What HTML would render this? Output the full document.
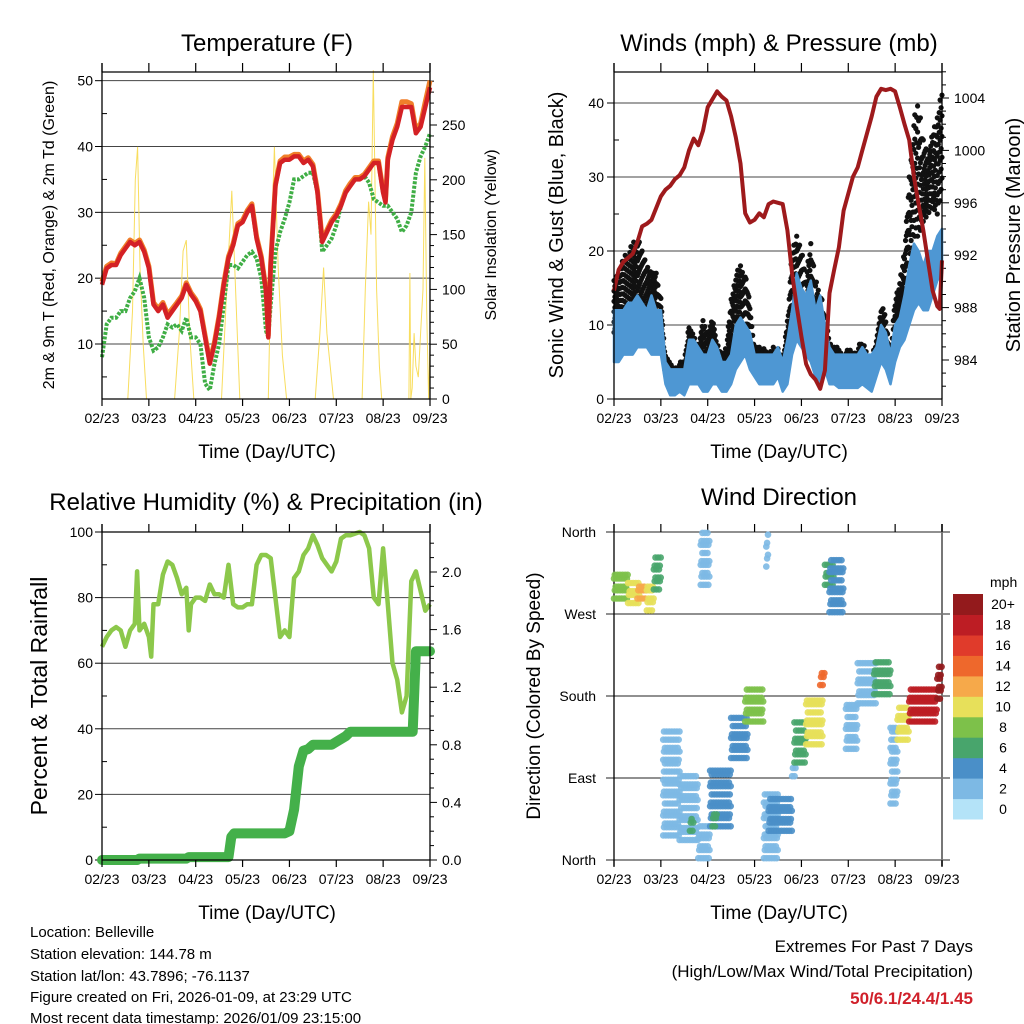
<!DOCTYPE html>
<html><head><meta charset="utf-8"><style>
html,body{margin:0;padding:0;background:#fff}
svg{display:block;font-family:"Liberation Sans",Arial,sans-serif}
</style></head><body>
<svg id="c" width="1024" height="1024" viewBox="0 0 1024 1024" xmlns="http://www.w3.org/2000/svg">
<rect width="1024" height="1024" fill="#fff"/>
<g font-size="24">
<text x="267" y="51" text-anchor="middle">Temperature (F)</text>
<text x="779" y="51" text-anchor="middle">Winds (mph) &amp; Pressure (mb)</text>
<text x="266" y="510" text-anchor="middle">Relative Humidity (%) &amp; Precipitation (in)</text>
<text x="779" y="505" text-anchor="middle">Wind Direction</text>
</g>
<g font-size="19">
<text x="267" y="458" text-anchor="middle">Time (Day/UTC)</text>
<text x="779" y="458" text-anchor="middle">Time (Day/UTC)</text>
<text x="267" y="919" text-anchor="middle">Time (Day/UTC)</text>
<text x="779" y="919" text-anchor="middle">Time (Day/UTC)</text>
</g>
<text transform="translate(54,235) rotate(-90)" font-size="16" text-anchor="middle">2m &amp; 9m T (Red, Orange) &amp; 2m Td (Green)</text>
<text transform="translate(496,235) rotate(-90)" font-size="16" text-anchor="middle">Solar Insolation (Yellow)</text>
<text transform="translate(563,235) rotate(-90)" font-size="20" text-anchor="middle">Sonic Wind &amp; Gust (Blue, Black)</text>
<text transform="translate(1020,235) rotate(-90)" font-size="20" text-anchor="middle">Station Pressure (Maroon)</text>
<text transform="translate(47,696) rotate(-90)" font-size="23" text-anchor="middle">Percent &amp; Total Rainfall</text>
<text transform="translate(540,696) rotate(-90)" font-size="19" text-anchor="middle">Direction (Colored By Speed)</text>
<g font-size="15">
<text x="30" y="937">Location: Belleville</text>
<text x="30" y="959">Station elevation: 144.78 m</text>
<text x="30" y="981">Station lat/lon: 43.7896; -76.1137</text>
<text x="30" y="1002">Figure created on Fri, 2026-01-09, at 23:29 UTC</text>
<text x="30" y="1023">Most recent data timestamp: 2026/01/09 23:15:00</text>
</g>
<g font-size="17" text-anchor="end">
<text x="973" y="952">Extremes For Past 7 Days</text>
<text x="973" y="977">(High/Low/Max Wind/Total Precipitation)</text>
<text x="973" y="1004" fill="#d0202a" font-weight="bold">50/6.1/24.4/1.45</text>
</g>
<g id="plots"></g>
</svg>
<script>
// ---------- data ----------
const dayLabels=["02/23","03/23","04/23","05/23","06/23","07/23","08/23","09/23"];
const tTimes=[0,0.1,0.2,0.3,0.4,0.5,0.6,0.7,0.8,0.9,1.0,1.1,1.2,1.3,1.4,1.5,1.6,1.7,1.8,1.9,2.0,2.1,2.2,2.3,2.4,2.5,2.6,2.7,2.8,2.9,3.0,3.1,3.2,3.3,3.4,3.5,3.55,3.6,3.7,3.8,3.9,4.0,4.1,4.2,4.3,4.4,4.5,4.6,4.7,4.8,4.9,5.0,5.1,5.2,5.3,5.4,5.5,5.6,5.7,5.8,5.9,6.0,6.05,6.1,6.2,6.3,6.4,6.5,6.6,6.7,6.8,6.9,7.0];
const temp2m=[19,21.5,22,22,23.5,24.5,25.5,25,25.5,24,21.5,16,15,16,14,15,16,17,19,17.5,16.5,15,11,7,10,14,19,23,25,28,28.5,30,31,26,23,18,11,22,34,37.5,38,38,38.5,38.5,37.5,38,37,33,25.5,27,28.5,29.5,31,33,34,35,35,35.5,36.5,37.5,37.5,33,31.5,38,41,43,46,46,46,42,43,46,49];
const temp9m=[19.5,21.8,22.3,22.2,23.8,24.8,25.8,25.3,25.8,24.3,21.8,16.3,15.4,16.3,14.5,15.4,16.3,17.3,19.3,17.8,16.8,15.3,11.3,7.3,10.3,14.3,19.3,23.3,25.3,28.3,28.8,30.3,31.3,26.3,23.3,18.3,11.3,22.3,34.3,37.8,38.4,38.4,38.8,38.8,37.8,38.3,37.3,33.3,25.8,27.3,28.8,29.8,31.3,33.3,34.4,35.3,35.3,35.8,36.8,37.8,37.8,33.3,31.8,38.3,41.5,43.5,46.8,46.8,46.5,42.5,43.5,46.8,50];
const dewTimes=[0,0.1,0.2,0.3,0.4,0.5,0.6,0.7,0.8,0.9,1.0,1.1,1.2,1.3,1.4,1.5,1.6,1.7,1.8,1.9,2.0,2.1,2.2,2.3,2.4,2.5,2.6,2.7,2.8,2.9,3.0,3.1,3.2,3.3,3.4,3.5,3.55,3.6,3.7,3.8,3.9,4.0,4.1,4.2,4.3,4.4,4.5,4.6,4.7,4.8,4.9,5.0,5.1,5.2,5.3,5.4,5.5,5.6,5.7,5.8,5.9,6.0,6.1,6.2,6.3,6.4,6.5,6.6,6.7,6.8,6.9,7.0];
const dew2m=[8,13,14,14,15,15,17,18,20,17,11,9,9.5,11,13,12.5,13,12,14,11,11,10,4,3,7,10,16,22,22,21.5,22.5,23.5,24,23,20,12,11,16,24,27,29,31.5,35,35,35.5,36,36,33,24,25,26,28,31,33,34,35,35,35.5,34.5,32,31.5,31,31,30,29,27,28,30,36,38.5,40,42];
const solarTimes=[0,0.55,0.65,0.71,0.76,0.81,0.88,0.95,1.55,1.65,1.73,1.8,1.87,1.96,2.55,2.65,2.77,2.86,2.94,3.55,3.62,3.68,3.76,3.85,3.94,4.55,4.65,4.73,4.8,4.87,4.94,5.55,5.62,5.69,5.74,5.79,5.86,5.92,5.97,6.55,6.57,6.59,6.62,6.66,6.7,6.75,6.8,6.85,6.89,6.93,6.97,7.0];
const solarVals=[0,0,80,200,230,120,50,0,0,60,135,145,60,0,0,90,190,90,0,0,150,230,120,40,0,0,60,120,60,30,0,0,100,180,150,300,100,30,0,0,115,0,10,60,30,20,60,100,220,80,0,50];
const windTimes=[0,0.1,0.2,0.3,0.4,0.5,0.6,0.7,0.8,0.9,1.0,1.1,1.2,1.3,1.4,1.5,1.6,1.7,1.8,1.9,2.0,2.1,2.2,2.3,2.4,2.5,2.6,2.7,2.8,2.9,3.0,3.1,3.2,3.3,3.4,3.5,3.6,3.7,3.8,3.9,4.0,4.1,4.2,4.3,4.4,4.5,4.6,4.7,4.8,4.9,5.0,5.1,5.2,5.3,5.4,5.5,5.6,5.7,5.8,5.9,6.0,6.1,6.2,6.3,6.4,6.5,6.6,6.7,6.8,6.9,7.0];
const windLow=[5,5,6,6,6,7,7,7,6,6,6,2,0.5,0.5,1,0.5,2,2,2,1,1,2,2,1,1,2,4,5,6,4,3,2,2,2,2,3,1,2,6,8,7,6,5,3,2,4,2,2,1.5,1.5,1.5,1.5,1.5,2,1.5,1,3,5,4,2,5,7,8,10,12,13,12,12,14,16,17];
const windHigh=[12,12,12,13,13,14,13,12,14,12,12,5,4,4,4,4,8,8,7,6,6,8,7,5,5,6,10,11,10,9,6,6,6,6,6,7,5,8,12,17,15,14,16,12,14,10,7,6,6,6,6,6,6,7,6,6,7,10,9,6,10,11,14,18,21,20,18,20,20,22,23];
const gustLow=[9,9,10,11,12,12,11,10,9,10,8,3,3,3,3,3,4,4,3,5,4,5,5,4,5,6,10,11,9,7,5,5,4,4,5,4,3,4,10,12,10,8,10,5,5,5,4,3,3,3,3,3,3,4,3,3,5,7,6,3,7,10,12,18,22,22,24,25,26,25,28];
const gustHigh=[16,17,19,20,21,22,20,18,17,17,14,6,5,4,5,5,10,9,7,11,9,11,8,6,7,14,17,18,17,13,7,7,7,6,7,7,5,11,20,22,20,17,21,16,15,11,8,7,7,6,7,6,7,8,6,6,8,13,11,6,14,16,20,30,38,40,35,33,36,38,42];
const presTimes=[0,0.1,0.2,0.3,0.4,0.5,0.6,0.7,0.8,0.9,1.0,1.1,1.2,1.3,1.4,1.5,1.6,1.7,1.8,1.9,2.0,2.1,2.2,2.3,2.4,2.5,2.6,2.7,2.8,2.9,3.0,3.1,3.2,3.3,3.4,3.5,3.6,3.7,3.8,3.9,4.0,4.1,4.2,4.3,4.4,4.5,4.6,4.7,4.8,4.9,5.0,5.1,5.2,5.3,5.4,5.5,5.6,5.7,5.8,5.9,6.0,6.1,6.2,6.3,6.4,6.5,6.6,6.7,6.8,6.9,6.95,7.0];
const pressure=[989.3,990.9,991.5,991.8,992.1,993.0,994.2,994.4,994.7,995.6,996.5,997.0,997.3,997.8,998.1,998.7,1000.0,1000.9,1000.4,1001.5,1003.3,1003.9,1004.5,1004.1,1003.8,1002.6,1001.0,999.0,995.2,994.5,994.7,995.2,994.9,995.9,996.1,996.0,995.9,993.9,990.6,988.1,985.8,983.7,982.9,982.5,981.8,983.2,989.1,990.9,992.6,995.4,996.7,998.0,998.7,1000.0,1001.3,1002.6,1004.1,1004.7,1004.6,1004.7,1004.5,1003.3,1002.0,1000.8,998.0,995.9,993.9,991.6,989.3,988.1,987.9,991.6];
const rhTimes=[0,0.1,0.2,0.3,0.4,0.5,0.6,0.7,0.75,0.8,0.9,1.0,1.05,1.1,1.2,1.3,1.4,1.5,1.6,1.7,1.8,1.85,1.9,2.0,2.1,2.2,2.3,2.4,2.5,2.6,2.7,2.8,2.9,3.0,3.1,3.2,3.3,3.4,3.5,3.6,3.7,3.8,3.9,4.0,4.1,4.2,4.3,4.4,4.5,4.6,4.7,4.8,4.9,5.0,5.1,5.2,5.3,5.4,5.5,5.6,5.7,5.8,5.9,6.0,6.1,6.2,6.3,6.4,6.5,6.6,6.7,6.8,6.9,7.0];
const rhVals=[65,68,70,71,70,65,70,72,88,70,72,68,62,78,78,87,91,90,86,81,83,70,78,80,80,79,84,81,81,80,90,78,77,77,78,78,90,93,93,92,80,68,70,68,86,88,93,95,99,96,92,90,88,91,98,99,99,99.5,100,99,95,80,78,95,78,60,55,45,50,85,88,82,76,78];
const precipTimes=[0,0.75,0.8,1.8,1.85,2.7,2.76,2.82,3.9,4.0,4.1,4.2,4.3,4.4,4.5,4.9,5.0,5.2,5.3,6.63,6.7,7.0];
const precipVals=[0,0,0.01,0.01,0.02,0.02,0.16,0.185,0.185,0.2,0.35,0.65,0.76,0.77,0.8,0.8,0.82,0.86,0.89,0.89,1.45,1.45];
// wind-direction clusters: start day, end day, min dir, max dir, speed
const dirStart=[0.0,0.3,0.5,0.7,0.85,1.05,1.4,1.62,1.8,1.85,2.05,2.1,2.5,2.8,3.2,3.3,3.25,3.8,3.85,4.1,4.4,4.5,4.6,4.95,5.2,5.55,5.9,6.05,6.3,6.9];
const dirEnd=[0.3,0.55,0.7,0.85,1.0,1.4,1.8,1.7,2.05,2.05,2.5,2.2,2.85,3.2,3.5,3.8,3.3,3.9,4.1,4.45,4.5,4.7,4.9,5.2,5.6,5.9,6.05,6.3,6.9,7.0];
const dirMin=[285,280,285,272,295,25,20,30,0,300,35,35,110,150,0,30,320,90,105,125,190,300,270,120,170,180,60,130,150,175];
const dirMax=[318,305,300,300,330,140,90,45,40,358,100,55,155,185,70,65,358,100,150,175,210,322,330,170,215,215,150,170,185,215];
const dirSpeed=[8,10,13,10,7,3,3,6,2,3,4,7,5,9,2,4,3,2,6,10,14,7,4,2,3,7,3,10,19,20];
const speedLabels=["0","2","4","6","8","10","12","14","16","18","20+"];
const speedColors=["#b4e3f8","#7db9e4","#4a8fc8","#48a56c","#7dc14a","#e7e05a","#f6a94a","#ee682c","#e03b2b","#bd1d24","#931a1c"];

// ---------- helpers ----------
const NS="http://www.w3.org/2000/svg";
const root=document.getElementById('plots');
function mk(tag,attrs,parent){const e=document.createElementNS(NS,tag);for(const k in attrs)e.setAttribute(k,attrs[k]);(parent||root).appendChild(e);return e;}
const DAYPX=328/7;
const xL=d=>102+d*DAYPX, xR=d=>614+d*DAYPX;
const yT=v=>344-(v-10)*6.583, yS=v=>399-v*1.096;
const yW=v=>399-v*7.4, yP=p=>360-(p-984)*13.1;
const yRH=v=>860-v*3.28, yPr=v=>860-v*144;
const yD=v=>860-v*328/360;
function pathOf(ts,vs,fx,fy){return ts.map((t,i)=>(i?'L':'M')+fx(t).toFixed(1)+','+fy(vs[i]).toFixed(1)).join('');}
function interp(ts,vs,t){for(let i=1;i<ts.length;i++){if(t<=ts[i]){const f=(t-ts[i-1])/(ts[i]-ts[i-1]);return vs[i-1]+f*(vs[i]-vs[i-1]);}}return vs[vs.length-1];}

function frame(x0,x1,yTop,yFrameTop,yBot,name){
  const g=mk('g',{});
  
  
  mk('line',{x1:x0,y1:yTop,x2:x0,y2:yBot,stroke:'#000','stroke-width':1.3},g);
  mk('line',{x1:x1,y1:yTop,x2:x1,y2:yBot,stroke:'#000','stroke-width':1.3},g);
  mk('line',{x1:x0,y1:yFrameTop,x2:x1,y2:yFrameTop,stroke:'#000','stroke-width':1.3},g);
  mk('line',{x1:x0,y1:yBot,x2:x1,y2:yBot,stroke:'#000','stroke-width':1.3},g);
  for(let i=0;i<dayLabels.length;i++){
    const x=x0+i*DAYPX;
    mk('line',{x1:x,y1:yTop,x2:x,y2:yFrameTop,stroke:'#000','stroke-width':1.2},g);
    mk('line',{x1:x,y1:yBot,x2:x,y2:yBot+7,stroke:'#000','stroke-width':1.2},g);
    const t=mk('text',{x:x,y:yBot+24,'font-size':14,'text-anchor':'middle'},g);
    
    
    t.textContent=dayLabels[i];
  }
  return g;
}
function hgrid(x0,x1,y){mk('line',{x1:x0,y1:y,x2:x1,y2:y,stroke:'#444','stroke-width':1});}
function ylab(x,y,txt,anchor,name){const t=mk('text',{x:x,y:y+5,'font-size':14,'text-anchor':anchor});t.textContent=txt;}
function tick(x,y,len){mk('line',{x1:x,y1:y,x2:x+len,y2:y,stroke:'#000','stroke-width':1});}

// ---------- Panel 1: temperature ----------
const tempTicks=[10,20,30,40,50];
tempTicks.forEach(v=>{hgrid(102,430,yT(v));ylab(93,yT(v),String(v),'end','temp-y-tick-label');tick(95,yT(v),7);});
for(let v=5;v<=50;v+=5){if(v%10)tick(102,yT(v),5);}
const solarTicks=[0,50,100,150,200,250];
solarTicks.forEach(v=>{tick(430,yS(v),7);ylab(442,yS(v),String(v),'start','solar-y-tick-label');});
for(let v=10;v<=290;v+=10){if(v%50)tick(430,yS(v),4);}
let e;
e=mk('path',{d:pathOf(solarTimes,solarVals,xL,yS),fill:'none',stroke:'#f7d94c','stroke-width':1,opacity:0.9});


e=mk('path',{d:pathOf(dewTimes,dew2m,xL,yT),fill:'none',stroke:'#3fae45','stroke-width':4,'stroke-dasharray':'3,1.5'});


e=mk('path',{d:pathOf(tTimes,temp9m,xL,yT),fill:'none',stroke:'#f07f2a','stroke-width':5,'stroke-linejoin':'round'});


e=mk('path',{d:pathOf(tTimes,temp2m,xL,yT),fill:'none',stroke:'#d42125','stroke-width':4.5,'stroke-linejoin':'round'});


frame(102,430,63,72,399,'temperature-axes');

// ---------- Panel 2: winds ----------
[10,20,30,40].forEach(v=>hgrid(614,942,yW(v)));
[0,10,20,30,40].forEach(v=>{ylab(604,yW(v),String(v),'end','wind-y-tick-label');tick(607,yW(v),7);});
for(let v=5;v<=40;v+=5){if(v%10)tick(614,yW(v),5);}
[984,988,992,996,1000,1004].forEach(p=>{tick(942,yP(p),7);ylab(954,yP(p),String(p),'start','pressure-y-tick-label');});
for(let p=982;p<=1006;p++){if(p%4)tick(942,yP(p),4);}
function band(ts,lo,hi,fx,fy){let d=pathOf(ts,hi,fx,fy);for(let i=ts.length-1;i>=0;i--)d+='L'+fx(ts[i]).toFixed(1)+','+fy(lo[i]).toFixed(1);return d+'Z';}
const gustG=mk('g',{});


let k=0;
for(let t=0;t<=7.0001;t+=0.02){
  const lo=interp(windTimes,gustLow,t), hi=interp(windTimes,gustHigh,t);
  const step=Math.max(1.2,(hi-lo)/5);
  for(let v=lo+((k%3)*step/3);v<=hi;v+=step){
    const c=mk('circle',{cx:xR(t).toFixed(1),cy:yW(v).toFixed(1),r:2.6,fill:'#111'},gustG);
    
    
  }
  k++;
}
e=mk('path',{d:band(windTimes,windLow,windHigh,xR,yW),fill:'#4e97d3',stroke:'#4e97d3','stroke-width':2.5,'stroke-linejoin':'round'});


e=mk('path',{d:pathOf(presTimes,pressure,xR,yP),fill:'none',stroke:'#9e1a1c','stroke-width':4,'stroke-linejoin':'round'});


frame(614,942,63,72,399,'wind-axes');

// ---------- Panel 3: humidity / precip ----------
[20,40,60,80,100].forEach(v=>hgrid(102,430,yRH(v)));
[0,20,40,60,80,100].forEach(v=>{ylab(93,yRH(v),String(v),'end','rh-y-tick-label');tick(95,yRH(v),7);});
for(let v=10;v<=90;v+=20)tick(102,yRH(v),5);
[0,0.4,0.8,1.2,1.6,2.0].forEach(v=>{tick(430,yPr(v),7);ylab(442,yPr(v),v.toFixed(1),'start','precip-y-tick-label');});
for(let q=1;q<=22;q++){if(q%4)tick(430,yPr(q/10),4);}
e=mk('path',{d:pathOf(rhTimes,rhVals,xL,yRH),fill:'none',stroke:'#8cc84b','stroke-width':4.5,'stroke-linejoin':'round'});


e=mk('path',{d:pathOf(precipTimes,precipVals,xL,yPr),fill:'none',stroke:'#44b04a','stroke-width':10,'stroke-linejoin':'round','stroke-linecap':'round'});


frame(102,430,524,532,860,'humidity-axes');

// ---------- Panel 4: wind direction ----------
const dirNames=["North","East","South","West","North"];
[0,90,180,270,360].forEach((v,i)=>{mk('line',{x1:606,y1:yD(v),x2:950,y2:yD(v),stroke:'#222','stroke-width':1});ylab(596,yD(v),dirNames[i],'end','direction-tick-label');});
mk('line',{x1:942,y1:524,x2:942,y2:866,stroke:'#777','stroke-width':2});
mk('line',{x1:614,y1:524,x2:614,y2:866,stroke:'#000','stroke-width':1.3});
for(let i=0;i<dayLabels.length;i++){
  const x=614+i*DAYPX;
  mk('line',{x1:x,y1:524,x2:x,y2:532,stroke:'#000','stroke-width':1.2});
  mk('line',{x1:x,y1:860,x2:x,y2:867,stroke:'#000','stroke-width':1.2});
  const t=mk('text',{x:x,y:884,'font-size':14,'text-anchor':'middle'});
  
  
  t.textContent=dayLabels[i];
}
const dirG=mk('g',{});


for(let c=0;c<dirStart.length;c++){
  const col=speedColors[Math.min(10,Math.floor(dirSpeed[c]/2))];
  let row=0;
  for(let d=dirMin[c];d<=dirMax[c];d+=7){
    const off=(row%3)*0.018;row++;
    for(let t=dirStart[c]+off;t<=dirEnd[c];t+=0.055){
      const p=mk('circle',{cx:xR(t).toFixed(1),cy:yD(d+((row*7)%5)).toFixed(1),r:3.3,fill:col,opacity:0.9},dirG);
      
      
    }
  }
}
// colorbar
const cb=mk('g',{});


const bh=225/11;
for(let i=0;i<11;i++){
  const y=594+(10-i)*bh;
  const r=mk('rect',{x:953,y:y.toFixed(1),width:30,height:(bh+0.5).toFixed(1),fill:speedColors[i]},cb);
  
  
  const t=mk('text',{x:1003,y:(y+bh/2+5).toFixed(1),'font-size':14,'text-anchor':'middle'},cb);
  
  
  t.textContent=speedLabels[i];
}
const mph=mk('text',{x:990,y:587,'font-size':14},cb);


mph.textContent='mph';
</script>
</body></html>
